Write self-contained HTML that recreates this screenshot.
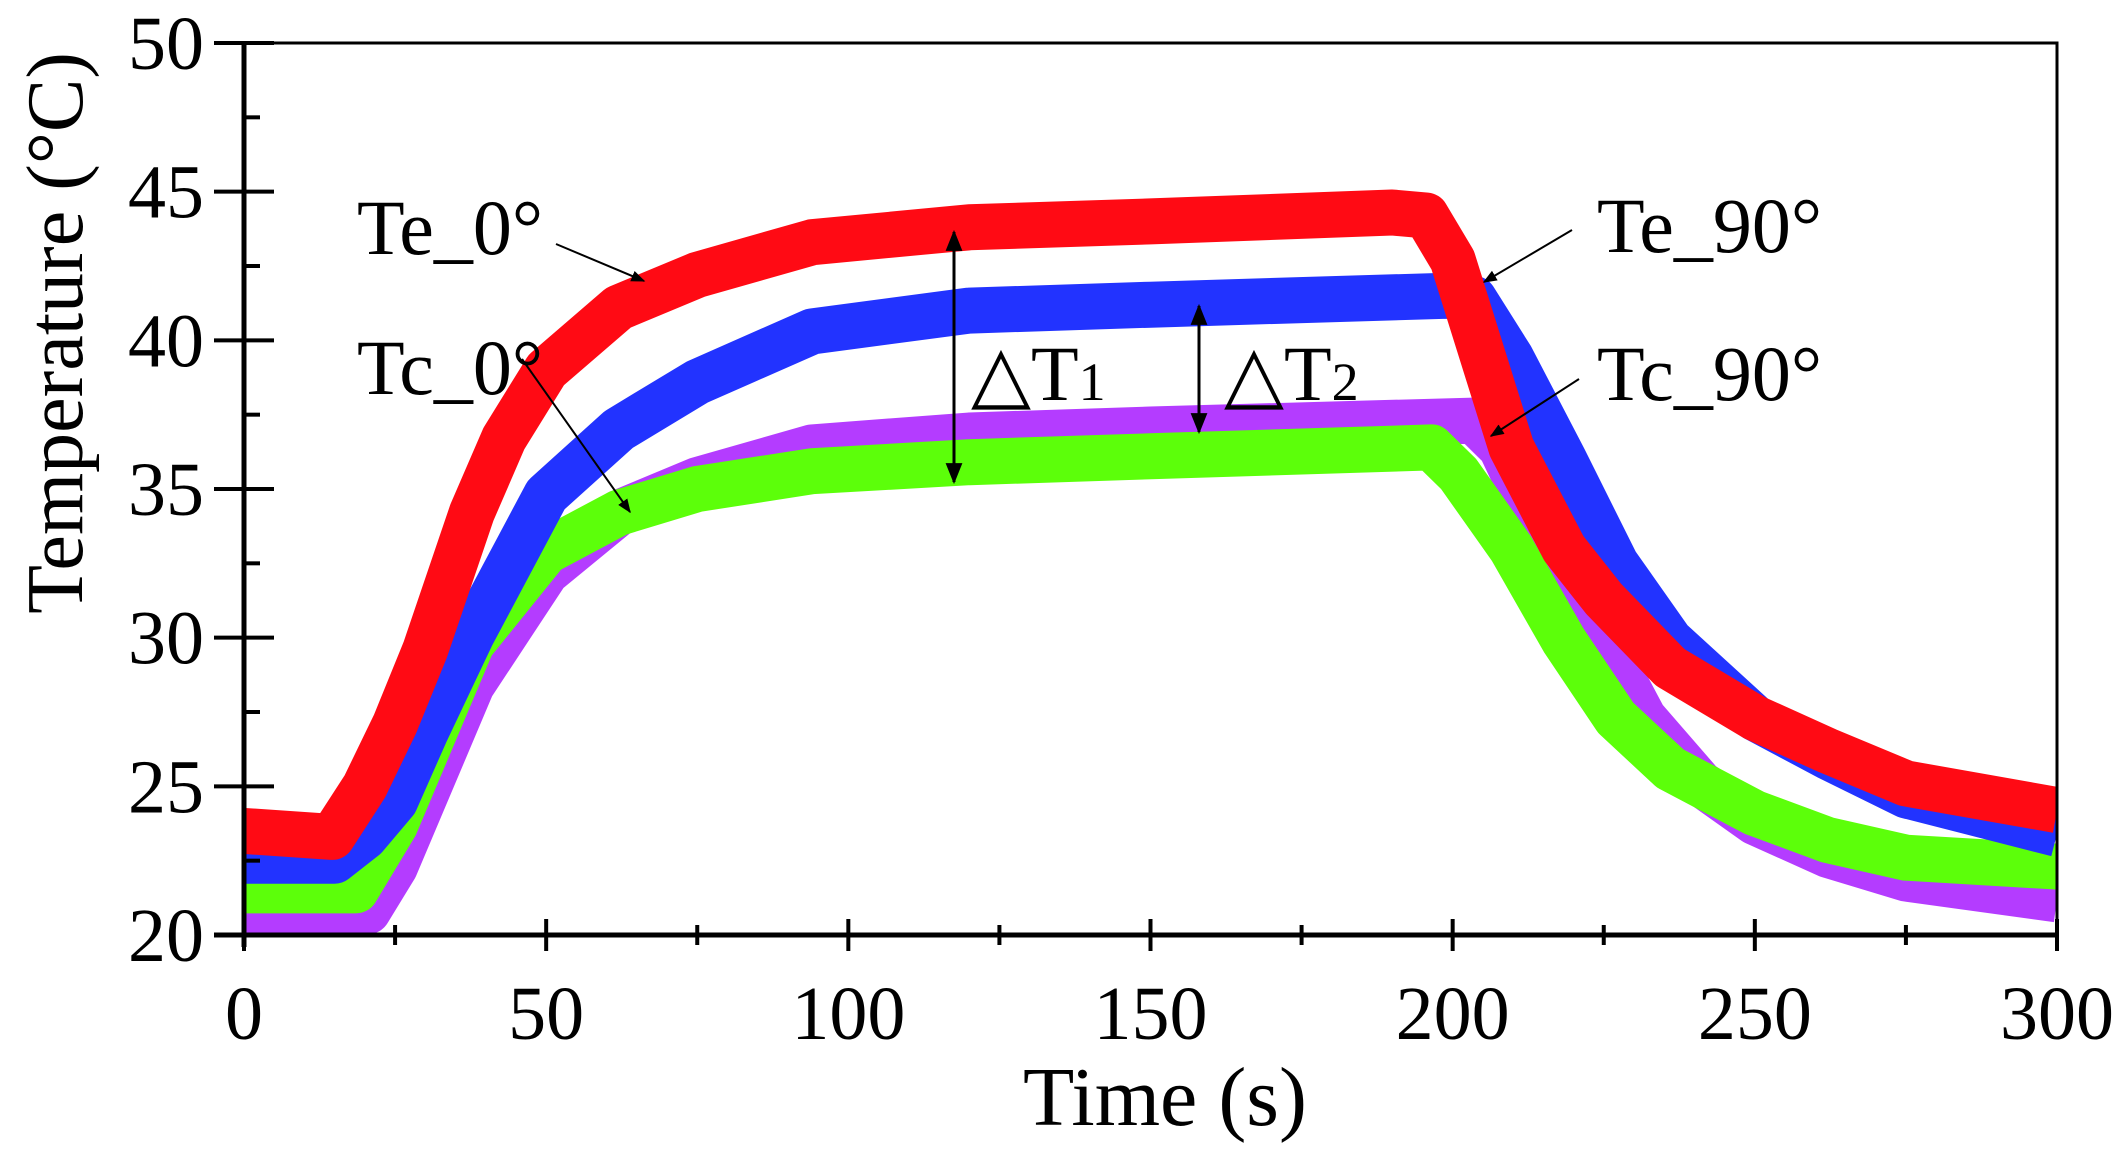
<!DOCTYPE html>
<html><head><meta charset="utf-8"><style>
html,body{margin:0;padding:0;background:#fff;}
svg{display:block;font-family:"Liberation Serif",serif;}
</style></head><body>
<svg id="chart" width="2125" height="1164" viewBox="0 0 2125 1164">
<g id="series"></g>
<g id="axes"></g>
<g id="annot">
<defs><marker id="ah" viewBox="0 0 10 10" refX="9" refY="5" markerWidth="7" markerHeight="7" orient="auto-start-reverse"><path d="M0,1 L10,5 L0,9 z" fill="#000"/></marker></defs>
<text x="357" y="254" font-size="78">Te_0°</text>
<line x1="556" y1="244" x2="644" y2="281" stroke="#000" stroke-width="2" marker-end="url(#ah)"/>
<text x="357" y="394" font-size="78">Tc_0°</text>
<line x1="522" y1="359" x2="630" y2="512" stroke="#000" stroke-width="2" marker-end="url(#ah)"/>
<text x="1597" y="252" font-size="78">Te_90°</text>
<line x1="1572" y1="230" x2="1484" y2="282" stroke="#000" stroke-width="2" marker-end="url(#ah)"/>
<text x="1597" y="400" font-size="78">Tc_90°</text>
<line x1="1579" y1="379" x2="1491" y2="436" stroke="#000" stroke-width="2" marker-end="url(#ah)"/>
<line x1="954" y1="232" x2="954" y2="482" stroke="#000" stroke-width="3" marker-start="url(#ah)" marker-end="url(#ah)"/>
<text x="971" y="400" font-size="78">△T<tspan font-size="54">1</tspan></text>
<line x1="1199" y1="306" x2="1199" y2="432" stroke="#000" stroke-width="3" marker-start="url(#ah)" marker-end="url(#ah)"/>
<text x="1224" y="400" font-size="78">△T<tspan font-size="54">2</tspan></text>
</g>
</svg>
<script>
const teZeroTimes=[0,14.6,20,25,30,37.7,43,50,62,75,94,120,150,190,195.6,200,209.7,218.4,225,236,250,262,275,300];
const teZero=[23.5,23.3,25,27.1,29.6,34.2,36.7,39,41.1,42.2,43.3,43.8,44,44.3,44.2,42.7,36.4,33,31.3,29,27.3,26.2,25.1,24.2];
const teNinetyTimes=[0,15,20,25,30,37.7,50,62,75,94,120,150,199,203.5,209.7,218.4,227,236,250,262,275,300];
const teNinety=[22.5,22.5,23.3,24.5,26.8,30.1,34.8,37,38.6,40.3,41,41.2,41.5,41.4,39.4,36,32.5,29.9,27.3,26,24.7,23.4];
const tcNinetyTimes=[0,18.5,25,37.7,50,62,75,94,120,150,196.5,201,209.7,218.4,227,236,250,262,275,300];
const tcNinety=[21.5,21.5,23.7,29.8,32.9,34.2,35,35.6,35.9,36.1,36.4,35.5,33,29.9,27.3,25.6,24.1,23.2,22.6,22.3];
const tcZeroTimes=[0,20.5,25,37.7,50,62,75,94,120,150,203.5,208,214,223,231.6,241,250,262,275,300];
const tcZero=[20.8,20.8,22.3,28.4,32.2,34.2,35.3,36.4,36.8,37,37.3,36.4,33.8,30.6,27.3,25.1,23.8,22.7,21.9,21.2];
const xTicks=[0,50,100,150,200,250,300];
const yTicks=[20,25,30,35,40,45,50];
const L=244,R=2057,T=43,B=935;
const xs=t=>L+(t-0)/300*(R-L);
const ys=v=>B-(v-20)/30*(B-T);
const NS="http://www.w3.org/2000/svg";
const sg=document.getElementById('series');
function draw(times,arr,color,name){
  const p=document.createElementNS(NS,'polyline');
  
  
  p.setAttribute('points',times.map((t,i)=>xs(t).toFixed(1)+','+ys(arr[i]).toFixed(1)).join(' '));
  p.setAttribute('fill','none');p.setAttribute('stroke',color);
  p.setAttribute('stroke-width','46');p.setAttribute('stroke-linejoin','round');
  sg.appendChild(p);
}
draw(tcZeroTimes,tcZero,'#b43cff','series-tc-0');
draw(tcNinetyTimes,tcNinety,'#5cff0a','series-tc-90');
draw(teNinetyTimes,teNinety,'#2233ff','series-te-90');
draw(teZeroTimes,teZero,'#ff0a14','series-te-0');
const ag=document.getElementById('axes');
function el(tag,attrs){const e=document.createElementNS(NS,tag);for(const k in attrs)e.setAttribute(k,attrs[k]);ag.appendChild(e);return e;}
const m1=el('rect',{x:0,y:0,width:L,height:1164,fill:'#fff'});


const m2=el('rect',{x:R,y:0,width:2125-R,height:1164,fill:'#fff'});


const m3=el('rect',{x:0,y:B,width:2125,height:1164-B,fill:'#fff'});


const fr=el('rect',{x:L,y:T,width:R-L,height:B-T,fill:'none',stroke:'#000','stroke-width':3});


const la=el('line',{x1:L,y1:T,x2:L,y2:B+12,stroke:'#000','stroke-width':5});


const ba=el('line',{x1:L-30,y1:B,x2:R,y2:B,stroke:'#000','stroke-width':5});


yTicks.forEach(v=>{
  const y=ys(v);
  const t=el('line',{x1:L-30,y1:y,x2:L+30,y2:y,stroke:'#000','stroke-width':4});
  
  
  const tx=el('text',{x:L-40,y:y+26,'font-size':76,'text-anchor':'end'});
  tx.textContent=v;
  
  
  if(v<50){const mt=el('line',{x1:L,y1:ys(v+2.5),x2:L+16,y2:ys(v+2.5),stroke:'#000','stroke-width':4});
  
  }
});
xTicks.forEach(v=>{
  const x=xs(v);
  const t=el('line',{x1:x,y1:B-16,x2:x,y2:B+16,stroke:'#000','stroke-width':4});
  
  
  const tx=el('text',{x:x,y:B+104,'font-size':76,'text-anchor':'middle'});
  tx.textContent=v;
  
  
  if(v<300){const mt=el('line',{x1:xs(v+25),y1:B-10,x2:xs(v+25),y2:B+10,stroke:'#000','stroke-width':4});
  
  }
});
const xt=el('text',{x:1165,y:1125,'font-size':84,'text-anchor':'middle'});
xt.textContent='Time (s)';


const yt=el('text',{x:0,y:0,'font-size':80,'text-anchor':'middle',transform:'translate(82,333) rotate(-90)'});
yt.textContent='Temperature (°C)';


</script>
</body></html>
